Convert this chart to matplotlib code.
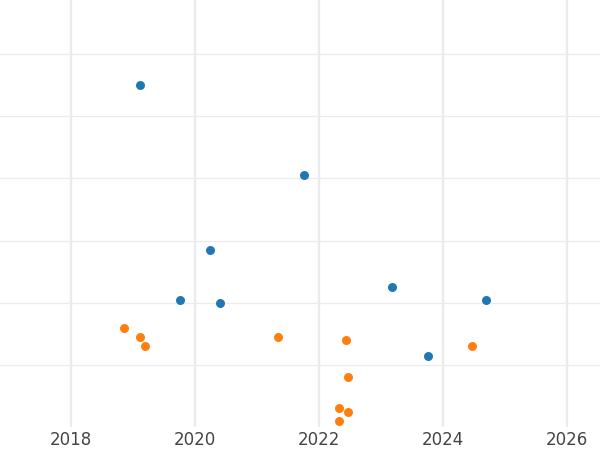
import numpy as np
from matplotlib import pyplot as plt

# Two series (x in years, y in arbitrary units)
blue_x = [2019.113, 2021.758, 2020.247, 2019.763, 2020.403, 2023.182, 2024.698, 2023.758]
blue_y = [5.504, 4.050, 2.847, 2.042, 1.994, 2.246, 2.042, 1.145]

orange_x = [2018.850, 2019.108, 2019.198, 2021.344, 2022.431, 2024.473,
            2022.463, 2022.318, 2022.463, 2022.318]
orange_y = [1.596, 1.446, 1.296, 1.446, 1.393, 1.296, 0.797, 0.298, 0.243, 0.098]

x_ticks = [2018, 2020, 2022, 2024, 2026]
y_grid = [1, 2, 3, 4, 5, 6]

fig = plt.figure(figsize=(6, 4.5), dpi=100)
ax = fig.add_axes([0, 23/450, 1, 427/450])

ax.scatter(blue_x, blue_y, s=42, color="#1f77b4", linewidths=0, zorder=3)
ax.scatter(orange_x, orange_y, s=42, color="#ff7f0e", linewidths=0, zorder=3)

ax.set_xlim(2016.855, 2026.532)
ax.set_ylim(0, 6.873)
ax.set_xticks(x_ticks)
ax.set_xticklabels([str(t) for t in x_ticks])
ax.set_yticks(y_grid)
ax.set_yticklabels([])

ax.grid(axis="x", color="#ebebeb", linewidth=1.7, zorder=0)
ax.grid(axis="y", color="#ebebeb", linewidth=0.9, zorder=0)
ax.set_axisbelow(True)
ax.tick_params(length=0, labelsize=12, labelcolor="#444444", pad=3)
for s in ax.spines.values():
    s.set_visible(False)

plt.savefig("out.png", dpi=100)
